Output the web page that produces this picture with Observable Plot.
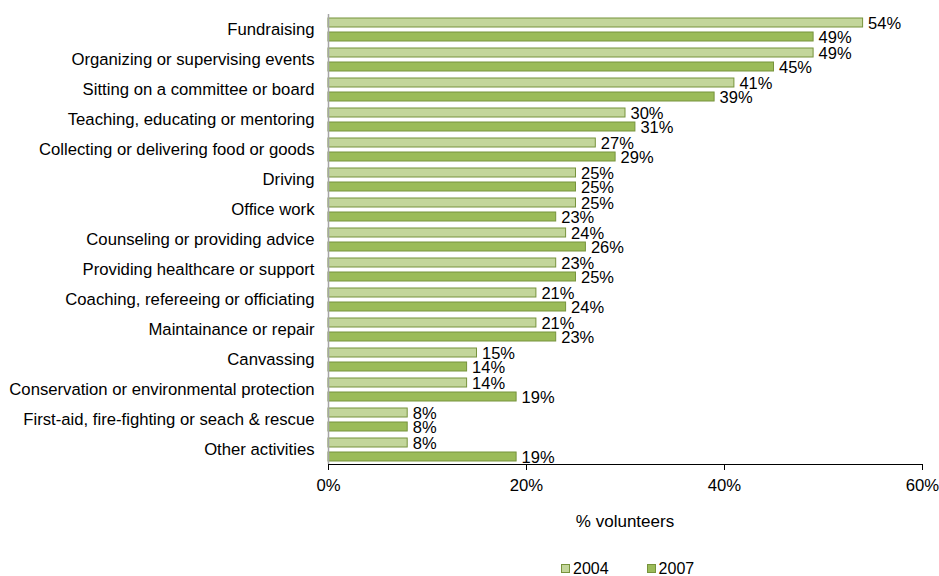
<!DOCTYPE html>
<html><head><meta charset="utf-8">
<script src="https://cdn.jsdelivr.net/npm/d3@7"></script>
<script src="https://cdn.jsdelivr.net/npm/@observablehq/plot@0.6"></script>
<style>
body{margin:0;background:#fff;font-family:"Liberation Sans",Arial,sans-serif;color:#000}
#wrap{position:relative;width:939px;height:576px}
#xlabel{position:absolute;left:328px;width:594px;top:512px;text-align:center;font-size:17px}
#legend{position:absolute;left:561px;top:561px;font-size:16px;line-height:14px;white-space:nowrap}
.item{display:inline-flex;align-items:center;margin-right:38px}
.sw{display:inline-block;width:7px;height:7px;border:1px solid #77933C;margin-right:3px}
</style>
</head><body>
<div id="wrap">
<div id="chart"></div>
<div id="xlabel">% volunteers</div>
<div id="legend"></div>
</div>
<script>
const categories = [
  "Fundraising",
  "Organizing or supervising events",
  "Sitting on a committee or board",
  "Teaching, educating or mentoring",
  "Collecting or delivering food or goods",
  "Driving",
  "Office work",
  "Counseling or providing advice",
  "Providing healthcare or support",
  "Coaching, refereeing or officiating",
  "Maintainance or repair",
  "Canvassing",
  "Conservation or environmental protection",
  "First-aid, fire-fighting or seach & rescue",
  "Other activities"
];
const years = ["2004", "2007"];
const values2004 = [54, 49, 41, 30, 27, 25, 25, 24, 23, 21, 21, 15, 14, 8, 8];
const values2007 = [49, 45, 39, 31, 29, 25, 23, 26, 25, 24, 23, 14, 19, 8, 19];
const xTicks = [0, 20, 40, 60];
const colors = {"2004": "#C3D69B", "2007": "#9BBB59"};

const data = [];
categories.forEach((c, i) => {
  data.push({category: c, year: "2004", value: values2004[i]});
  data.push({category: c, year: "2007", value: values2007[i]});
});

const chart = Plot.plot({
  width: 939,
  height: 500,
  marginLeft: 328,
  marginRight: 17,
  marginTop: 14,
  marginBottom: 36,
  style: {fontFamily: "Liberation Sans, Arial, sans-serif", fontSize: "16.7px", color: "#000", background: "#fff"},
  facet: {data: data, y: "category"},
  fy: {domain: categories, padding: 0, label: null, tickSize: 0, tickPadding: 14},
  y: {domain: years, axis: null, paddingInner: 0.38, paddingOuter: 0.2},
  x: {domain: [0, 60], ticks: xTicks, tickFormat: d => d + "%", label: null, tickSize: 6, tickPadding: 9, line: true},
  marks: [
    Plot.barX(data, {x: "value", y: "year", fill: d => colors[d.year], stroke: "#77933C", strokeWidth: 1}),
    Plot.text(data, {x: "value", y: "year", text: d => d.value + "%", textAnchor: "start", dx: 5, dy: 1, fill: "#000", fontSize: 16.5, fontFamily: "Liberation Sans Narrow, Arial Narrow, sans-serif"}),
    Plot.ruleX([0], {stroke: "#a6a6a6", strokeWidth: 1.5})
  ]
});
document.getElementById("chart").appendChild(chart);
d3.select(chart).selectAll("g[aria-label='x-axis']").attr("stroke", "#a6a6a6");
d3.select(chart).selectAll("g[aria-label='x-axis'] text").attr("stroke", "none").style("font-size", "16px");

const legend = document.getElementById("legend");
years.forEach(y => {
  const it = document.createElement("span");
  it.className = "item";
  const sw = document.createElement("span");
  sw.className = "sw";
  sw.style.background = colors[y];
  it.appendChild(sw);
  it.appendChild(document.createTextNode(y));
  legend.appendChild(it);
});
</script>
</body></html>
